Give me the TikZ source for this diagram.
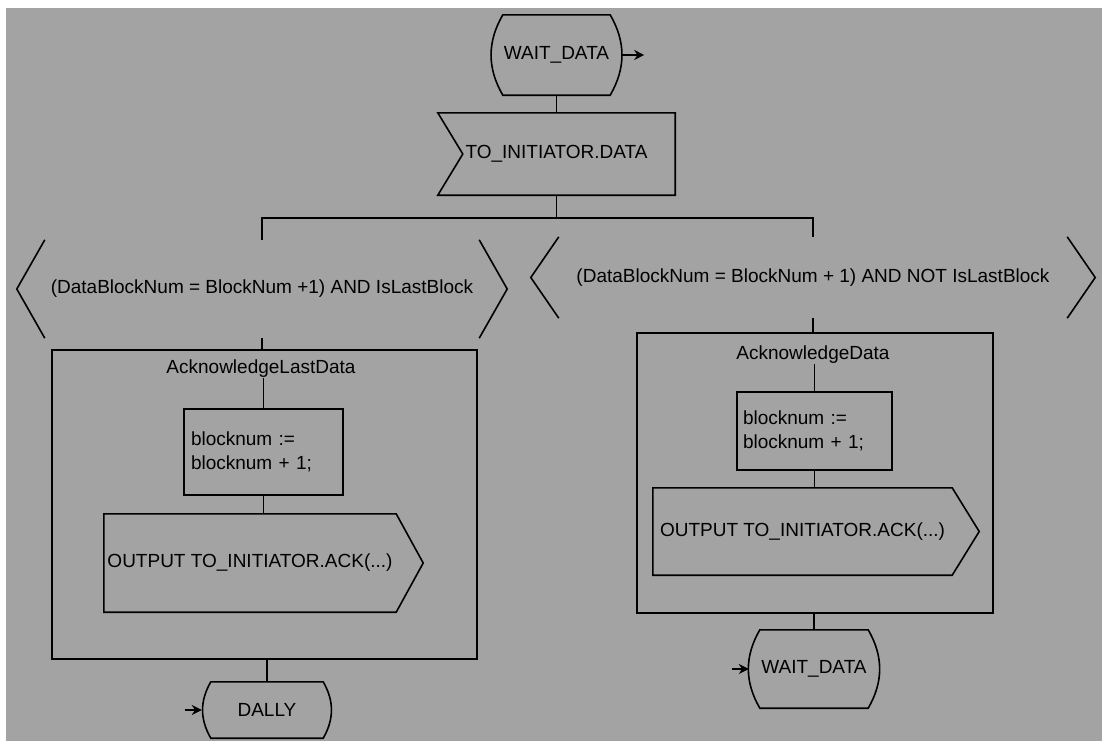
\documentclass[tikz,border=0pt]{standalone}
\usepackage{fontspec}
\setmainfont{Liberation Sans}
\usetikzlibrary{arrows.meta}
\definecolor{paper}{gray}{0.64}
\newcommand\drawstate[1]{\draw[wire] (#1.north west) -- (#1.north east) to[out=-60,in=60] (#1.south east) -- (#1.south west) to[out=120,in=-120] cycle;}
\newcommand\drawinput[1]{\draw[wire] (#1.north west) -- (#1.north east) -- (#1.south east) -- (#1.south west) -- ([xshift=25pt]#1.west) -- cycle;}
\newcommand\drawoutput[1]{\draw[wire] (#1.north west) -- (#1.north east) -- ([xshift=27pt]#1.east) -- (#1.south east) -- (#1.south west) -- cycle;}
\newcommand\drawanswer[1]{\draw[wire] (#1.north west) -- ([xshift=-28pt]#1.west) -- (#1.south west) (#1.north east) -- ([xshift=28pt]#1.east) -- (#1.south east);}
\begin{document}
\begin{tikzpicture}[x=1pt,y=-1pt,
		every node/.style={font=\fontsize{19}{24}\selectfont, inner sep=0pt},
		wire/.style={line width=1.6pt},
		box/.style={wire, draw, rectangle},
		entry/.style={wire, -{Stealth[length=10pt,width=10pt]}}]
	\useasboundingbox (0,0) rectangle (1102,747);
	\fill[paper] (6,8) rectangle (1102,741);
	\node[minimum width=107, minimum height=80] (waitTop) at (556.5,55) {WAIT\_DATA};
	\drawstate{waitTop}
	\node[minimum width=237, minimum height=82] (getData) at (556.5,154) {TO\_INITIATOR.DATA};
	\drawinput{getData}
	\draw[wire] (waitTop) -- (getData);
	\draw[entry] ([xshift=12pt]waitTop.east) -- ++(22,0);
	\node[minimum width=434, minimum height=98] (lastBlk) at (262,289) {(DataBlockNum = BlockNum +1) AND IsLastBlock};
	\node[minimum width=508, minimum height=81] (nextBlk) at (813,277.5) {(DataBlockNum = BlockNum + 1) AND NOT IsLastBlock};
	\drawanswer{lastBlk}
	\drawanswer{nextBlk}
	\draw[wire] (getData.south) -- ++(0,23) coordinate (fork);
	\draw[wire] (lastBlk.north) -- (lastBlk.north |- fork) -- (nextBlk.north |- fork) -- (nextBlk.north);
	% last block
	\node[box, minimum width=425, minimum height=309] (ackLast) at (264.5,504.5) {};
	\node (ackLastT) at (261,369) {AcknowledgeLastData};
	\node[box, minimum width=159, minimum height=86, text width=145, align=left] (incL) at (263.5,452) {blocknum :=\\ blocknum + 1;};
	\node[minimum width=292, minimum height=98] (ackL) at (250,563) {OUTPUT TO\_INITIATOR.ACK(...)};
	\drawoutput{ackL}
	\node[minimum width=112, minimum height=56] (dally) at (267,710) {DALLY};
	\drawstate{dally}
	\draw[wire] (lastBlk.south) -- (lastBlk.south |- ackLast.north);
	\draw[wire] (incL.north |- ackLastT.south) -- (incL.north);
	\draw[wire] (incL.south) -- (incL.south |- ackL.north);
	\draw[wire] (dally.north |- ackLast.south) -- (dally.north);
	\draw[entry] ([xshift=-26pt]dally.west) -- ([xshift=-9pt]dally.west);
	% next block
	\node[box, minimum width=356, minimum height=280] (ack) at (815,473) {};
	\node (ackT) at (813,355) {AcknowledgeData};
	\node[box, minimum width=155, minimum height=78, text width=143, align=left] (incR) at (814.5,431) {blocknum :=\\ blocknum + 1;};
	\node[minimum width=299, minimum height=87] (ackR) at (802.5,531.5) {OUTPUT TO\_INITIATOR.ACK(...)};
	\drawoutput{ackR}
	\node[minimum width=108, minimum height=78] (waitEnd) at (814,669) {WAIT\_DATA};
	\drawstate{waitEnd}
	\draw[wire] (nextBlk.south) -- (nextBlk.south |- ack.north);
	\draw[wire] (incR.north |- ackT.south) -- (incR.north);
	\draw[wire] (incR.south) -- (incR.south |- ackR.north);
	\draw[wire] (waitEnd.north |- ack.south) -- (waitEnd.north);
	\draw[entry] ([xshift=-28pt]waitEnd.west) -- ([xshift=-11pt]waitEnd.west);
\end{tikzpicture}
\end{document}
